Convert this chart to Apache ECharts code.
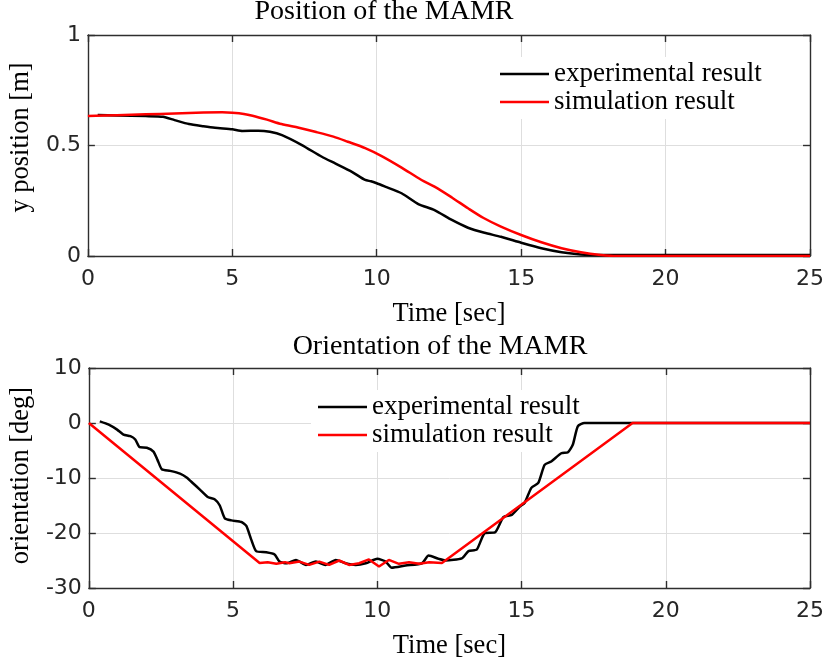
<!DOCTYPE html>
<html>
<head>
<meta charset="utf-8">
<script src="https://cdn.jsdelivr.net/npm/echarts@6/dist/echarts.min.js"></script>
<style>
  html, body { margin: 0; padding: 0; background: #fff; }
  #chart { width: 827px; height: 666px; }
</style>
</head>
<body>
<div id="chart"></div>
<script>
// y position of the MAMR [m] versus time [sec]
const posExpT = [0.34, 1.0, 2.0, 2.6, 3.0, 3.5, 4.0, 4.4, 5.0, 5.35, 5.9, 6.3, 6.72, 7.41, 8.1, 8.56, 9.14, 9.6, 9.8, 10.0, 10.29, 10.86, 11.44, 12.0, 12.6, 13.16, 13.73, 14.3, 15.0, 15.7, 16.4, 17.07, 17.8, 25.0];
const posExpY = [0.638, 0.636, 0.633, 0.630, 0.615, 0.597, 0.587, 0.580, 0.573, 0.566, 0.567, 0.562, 0.547, 0.502, 0.449, 0.419, 0.381, 0.344, 0.338, 0.329, 0.314, 0.284, 0.235, 0.208, 0.163, 0.128, 0.105, 0.087, 0.060, 0.035, 0.017, 0.007, 0.005, 0.005];
const posSimT = [0, 1, 2, 3, 4, 4.65, 5.0, 5.4, 5.7, 6.2, 6.7, 7.3, 7.87, 8.5, 9.0, 9.6, 10.17, 10.86, 11.55, 12.0, 12.6, 13.16, 13.7, 14.3, 15.0, 15.7, 16.4, 17.07, 17.76, 18.3, 25.0];
const posSimY = [0.633, 0.637, 0.641, 0.645, 0.649, 0.650, 0.648, 0.643, 0.635, 0.617, 0.597, 0.580, 0.562, 0.540, 0.517, 0.488, 0.452, 0.400, 0.344, 0.314, 0.265, 0.216, 0.172, 0.133, 0.095, 0.062, 0.035, 0.017, 0.005, 0.0, 0.0];

// orientation of the MAMR [deg] versus time [sec]
const oriExpT = [0.38, 0.69, 0.98, 1.2, 1.44, 1.61, 1.76, 2.01, 2.24, 2.38, 2.53, 2.82, 3.16, 3.39, 3.62, 3.85, 4.14, 4.37, 4.54, 4.71, 4.94, 5.29, 5.46, 5.63, 5.80, 6.15, 6.44, 6.61, 6.85, 7.18, 7.53, 7.87, 8.2, 8.56, 8.9, 9.25, 9.6, 10.0, 10.29, 10.5, 10.98, 11.55, 11.78, 12.13, 12.36, 12.93, 13.16, 13.45, 13.73, 14.08, 14.37, 14.66, 14.94, 15.11, 15.34, 15.58, 15.8, 16.03, 16.38, 16.61, 16.78, 16.95, 17.18, 25.0];
const oriExpY = [0.3, -0.3, -1.2, -2.1, -2.4, -3.0, -4.4, -4.5, -5.2, -6.7, -8.4, -8.7, -9.2, -9.9, -11.0, -12.1, -13.5, -13.9, -15.0, -17.3, -17.7, -18.0, -18.7, -21.2, -23.3, -23.5, -23.9, -25.2, -25.5, -24.9, -25.8, -25.2, -25.8, -24.9, -25.5, -25.8, -25.5, -24.7, -25.2, -26.3, -25.9, -25.5, -24.1, -24.7, -25.0, -24.6, -23.3, -23.0, -20.0, -19.9, -17.1, -16.7, -15.2, -14.5, -11.8, -10.9, -7.6, -7.0, -5.5, -5.3, -3.9, -0.6, 0.0, 0.0];
const oriSimT = [0, 5.92, 6.2, 6.5, 6.8, 6.95, 7.3, 7.64, 7.99, 8.33, 8.68, 9.02, 9.37, 9.71, 10.06, 10.4, 10.75, 11.1, 11.45, 11.8, 12.24, 18.85, 25.0];
const oriSimY = [0, -25.45, -25.3, -25.6, -25.3, -25.5, -25.2, -25.8, -25.2, -25.8, -25.0, -25.8, -25.5, -24.8, -26.1, -24.9, -25.6, -25.3, -25.6, -25.3, -25.45, 0, 0];

const xTicks = { min: 0, max: 25, interval: 5 };
const posTicks = { min: 0, max: 1, interval: 0.5 };
const oriTicks = { min: -30, max: 10, interval: 10 };

const seriesNames = ['experimental result', 'simulation result'];

const pairs = (t, v) => t.map((x, i) => [x, v[i]]);

const AXIS_COLOR = '#2e2e2e';
const GRID_COLOR = '#dedede';
const SERIF = '"Liberation Serif", "Times New Roman", serif';
const SANS = '"DejaVu Sans", sans-serif';

function mainX(gridIndex) {
  return {
    type: 'value', gridIndex, position: 'bottom', ...xTicks,
    name: 'Time [sec]', nameLocation: 'middle', nameGap: 45,
    nameTextStyle: { fontFamily: SERIF, fontSize: 26.5, color: '#000' },
    axisLine: { show: true, onZero: false, lineStyle: { color: AXIS_COLOR, width: 1.4 } },
    axisTick: { show: true, inside: true, length: 7, lineStyle: { color: AXIS_COLOR, width: 1.4 } },
    axisLabel: { fontFamily: SANS, fontSize: 22, color: '#262626', margin: 12 },
    splitLine: { show: true, lineStyle: { color: GRID_COLOR, width: 1 } }
  };
}
function boxX(gridIndex) {
  return {
    type: 'value', gridIndex, position: 'top', ...xTicks,
    axisLine: { show: true, onZero: false, lineStyle: { color: AXIS_COLOR, width: 1.4 } },
    axisTick: { show: true, inside: true, length: 7, lineStyle: { color: AXIS_COLOR, width: 1.4 } },
    axisLabel: { show: false }, splitLine: { show: false }
  };
}
function mainY(gridIndex, ticks, name, shift) {
  return {
    type: 'value', gridIndex, position: 'left', ...ticks,
    name, nameLocation: 'middle', nameGap: 38, nameRotate: 90,
    nameTextStyle: { fontFamily: SERIF, fontSize: 26.5, color: '#000', padding: [0, 0, 0, shift] },
    axisLine: { show: true, onZero: false, lineStyle: { color: AXIS_COLOR, width: 1.4 } },
    axisTick: { show: true, inside: true, length: 7, lineStyle: { color: AXIS_COLOR, width: 1.4 } },
    axisLabel: { fontFamily: SANS, fontSize: 22, color: '#262626', margin: 7 },
    splitLine: { show: true, lineStyle: { color: GRID_COLOR, width: 1 } }
  };
}
function boxY(gridIndex, ticks) {
  return {
    type: 'value', gridIndex, position: 'right', ...ticks,
    axisLine: { show: true, onZero: false, lineStyle: { color: AXIS_COLOR, width: 1.4 } },
    axisTick: { show: true, inside: true, length: 7, lineStyle: { color: AXIS_COLOR, width: 1.4 } },
    axisLabel: { show: false }, splitLine: { show: false }
  };
}
function lineSeries(name, axisIndex, data, color, smooth) {
  return {
    name, type: 'line', xAxisIndex: axisIndex, yAxisIndex: axisIndex, data,
    symbol: 'none', showSymbol: false, smooth, animation: false, z: 6,
    lineStyle: { color, width: 2.5 }, itemStyle: { color }
  };
}
function legendAt(left, top) {
  return {
    data: seriesNames, orient: 'vertical', left, top, z: 4,
    icon: 'rect', itemWidth: 49, itemHeight: 2.5, itemGap: 0,
    padding: [3, 7, 3, 7], backgroundColor: '#fff', selectedMode: false,
    textStyle: { fontFamily: SERIF, fontSize: 27, color: '#000', lineHeight: 28 }
  };
}

const chart = echarts.init(document.getElementById('chart'), null, { renderer: 'canvas' });
chart.setOption({
  backgroundColor: '#fff',
  animation: false,
  grid: [
    { left: 85, top: 35, width: 725, height: 221 },
    { left: 85, top: 368, width: 725, height: 220 }
  ],
  xAxis: [mainX(0), boxX(0), mainX(1), boxX(1)],
  yAxis: [mainY(0, posTicks, 'y position [m]', 16), boxY(0, posTicks), mainY(1, oriTicks, 'orientation [deg]', 5), boxY(1, oriTicks)],
  legend: [legendAt(493, 57), legendAt(311, 390)],
  graphic: [
    { type: 'text', x: 384, y: 12, style: { text: 'Position of the MAMR', font: '28px ' + SERIF, fill: '#000', align: 'center', verticalAlign: 'middle' } },
    { type: 'text', x: 440, y: 347, style: { text: 'Orientation of the MAMR', font: '28px ' + SERIF, fill: '#000', align: 'center', verticalAlign: 'middle' } }
  ],
  series: [
    lineSeries(seriesNames[0], 0, pairs(posExpT, posExpY), '#000000', 0.2),
    lineSeries(seriesNames[1], 0, pairs(posSimT, posSimY), '#ff0000', 0.3),
    lineSeries(seriesNames[0], 2, pairs(oriExpT, oriExpY), '#000000', 0.2),
    lineSeries(seriesNames[1], 2, pairs(oriSimT, oriSimY), '#ff0000', false)
  ]
});
</script>
</body>
</html>
